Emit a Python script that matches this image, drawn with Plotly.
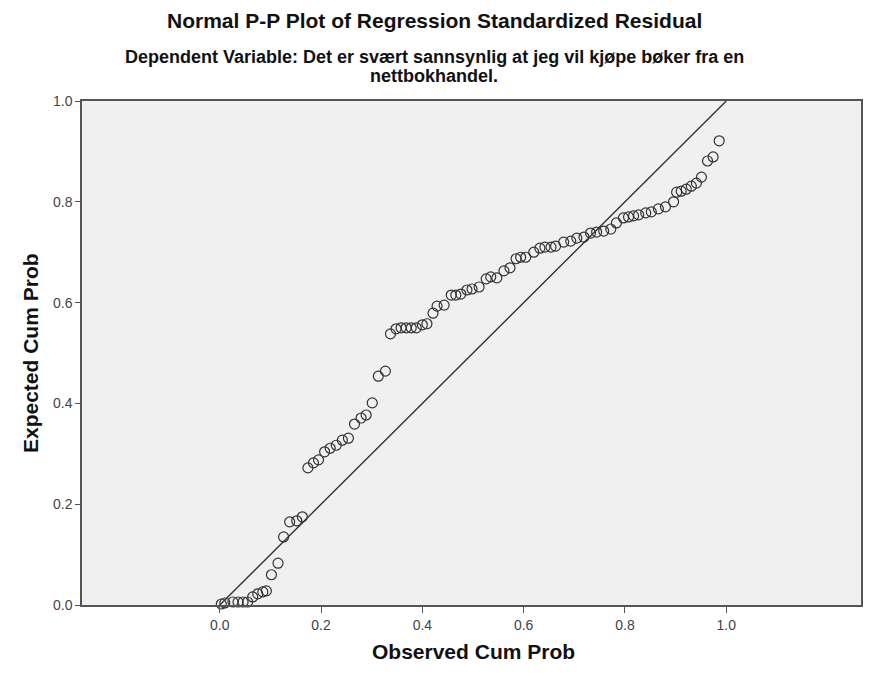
import plotly.graph_objects as go

# Observed cumulative probability (x) and expected cumulative probability (y)
observed = [0.003, 0.010, 0.026, 0.036, 0.046, 0.055, 0.065, 0.075, 0.085, 0.092,
            0.102, 0.115, 0.126, 0.138, 0.152, 0.163,
            0.174, 0.185, 0.195, 0.207, 0.218, 0.230, 0.242, 0.254, 0.266, 0.279,
            0.289, 0.301, 0.313, 0.327, 0.337, 0.348, 0.358, 0.368, 0.378, 0.388,
            0.400, 0.409, 0.421, 0.429, 0.443, 0.457, 0.466, 0.476, 0.488, 0.498,
            0.512, 0.526, 0.535, 0.547, 0.561, 0.573, 0.585, 0.594, 0.604, 0.620,
            0.632, 0.642, 0.654, 0.663, 0.679, 0.693, 0.705, 0.719, 0.732, 0.744,
            0.758, 0.772, 0.783, 0.797, 0.807, 0.817, 0.827, 0.841, 0.852, 0.866,
            0.880, 0.896, 0.902, 0.911, 0.921, 0.931, 0.941, 0.951, 0.963, 0.974,
            0.986]
expected = [0.002, 0.004, 0.006, 0.006, 0.006, 0.006, 0.016, 0.022, 0.026, 0.028,
            0.060, 0.083, 0.135, 0.165, 0.167, 0.175,
            0.272, 0.282, 0.288, 0.304, 0.311, 0.317, 0.327, 0.331, 0.359, 0.371,
            0.377, 0.401, 0.454, 0.464, 0.538, 0.548, 0.550, 0.550, 0.550, 0.550,
            0.556, 0.558, 0.579, 0.593, 0.595, 0.615, 0.615, 0.617, 0.625, 0.627,
            0.631, 0.647, 0.651, 0.649, 0.663, 0.669, 0.687, 0.690, 0.690, 0.700,
            0.708, 0.710, 0.710, 0.712, 0.720, 0.722, 0.728, 0.730, 0.738, 0.740,
            0.742, 0.746, 0.758, 0.768, 0.770, 0.772, 0.774, 0.778, 0.780, 0.786,
            0.790, 0.800, 0.819, 0.821, 0.825, 0.831, 0.837, 0.849, 0.881, 0.889,
            0.921]
ref_line = [0.0, 1.0]
tick_vals = [0.0, 0.2, 0.4, 0.6, 0.8, 1.0]

title_text = "Normal P-P Plot of Regression Standardized Residual"
subtitle_line1 = "Dependent Variable: Det er svært sannsynlig at jeg vil kjøpe bøker fra en"
subtitle_line2 = "nettbokhandel."
x_title = "Observed Cum Prob"
y_title = "Expected Cum Prob"

FONT = "Liberation Sans, Arial, sans-serif"
DARK = "#333333"
L, R, T, B = 82, 6, 101, 68
PW = 869 - L - R

fig = go.Figure()
fig.add_trace(go.Scatter(x=ref_line, y=ref_line, mode="lines",
                         line=dict(color=DARK, width=1.4), hoverinfo="skip",
                         showlegend=False))
fig.add_trace(go.Scatter(x=observed, y=expected, mode="markers",
                         marker=dict(symbol="circle-open", size=10,
                                     line=dict(color=DARK, width=1.2), color=DARK),
                         cliponaxis=False, showlegend=False))

cx = (435 - L) / PW


def ann(text, x, y, xshift=0, yshift=0, size=18, angle=0):
    return dict(text="<b>" + text + "</b>", xref="paper", yref="paper",
                x=x, y=y, xshift=xshift, yshift=yshift, textangle=angle,
                xanchor="center", yanchor="middle", showarrow=False,
                font=dict(size=size, family=FONT, color="#111"))


fig.update_layout(
    width=869, height=673,
    paper_bgcolor="white", plot_bgcolor="#f0f0f0",
    margin=dict(l=L, r=R, t=T, b=B),
    font=dict(family=FONT, color="#222"),
    annotations=[
        ann(title_text, cx, 1, yshift=T - 20, size=21),
        ann(subtitle_line1, cx, 1, yshift=T - 57, size=18),
        ann(subtitle_line2, cx, 1, yshift=T - 76, size=18),
        ann(x_title, (475 - L) / PW, 0, yshift=-46, size=21),
        ann(y_title, 0, 0.5, xshift=30 - L, size=21, angle=-90),
    ],
)
fig.update_xaxes(range=[-0.272, 1.266], tickvals=tick_vals, tickformat=".1f",
                 showgrid=False, zeroline=False, showline=True, linecolor="#555",
                 linewidth=1.5, mirror=True, ticks="outside", ticklen=6,
                 tickcolor="#555", tickfont=dict(size=14, color="#444"))
fig.update_yaxes(range=[0, 1], tickvals=tick_vals, tickformat=".1f",
                 showgrid=False, zeroline=False, showline=True, linecolor="#555",
                 linewidth=1.5, mirror=True, ticks="outside", ticklen=5,
                 tickcolor="#555", tickfont=dict(size=14, color="#444"))

fig.write_html("out.html")
